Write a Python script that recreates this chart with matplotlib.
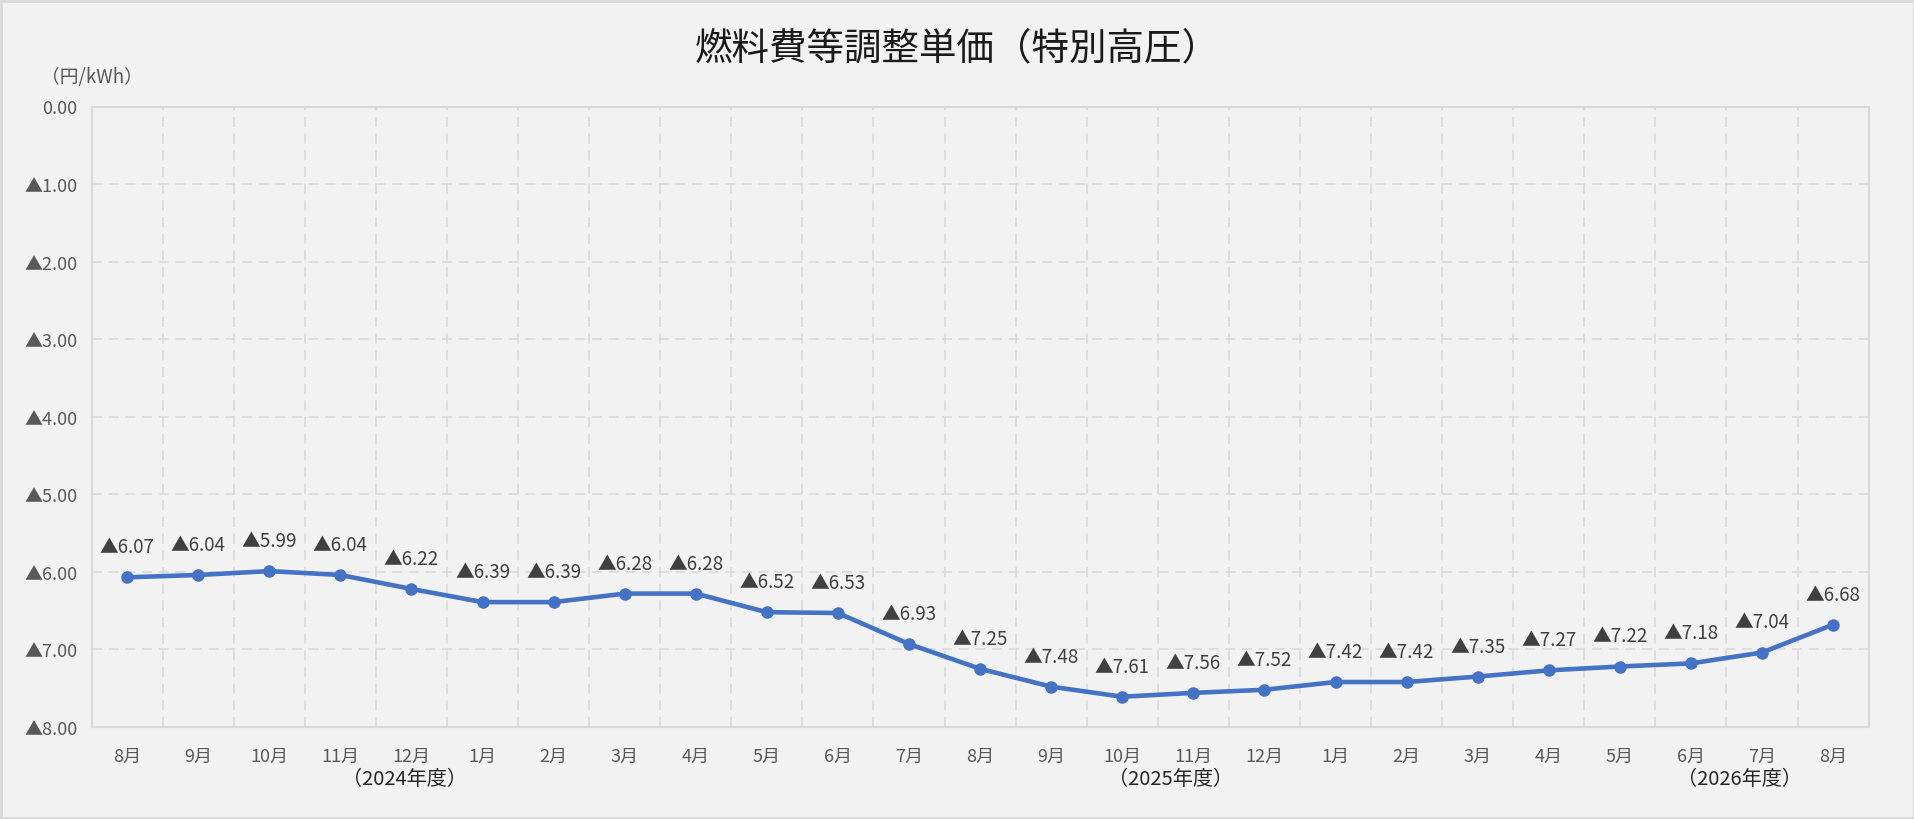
import matplotlib
matplotlib.use("Agg")
import matplotlib.pyplot as plt
from matplotlib.patches import Rectangle

plt.rcParams['font.family'] = ['Noto Sans CJK JP', 'DejaVu Sans']

title = "燃料費等調整単価（特別高圧）"
unit_label = "（円/kWh）"
months = ["8月", "9月", "10月", "11月", "12月", "1月", "2月", "3月", "4月", "5月",
          "6月", "7月", "8月", "9月", "10月", "11月", "12月", "1月", "2月", "3月",
          "4月", "5月", "6月", "7月", "8月"]
# values are reductions (shown with ▲)
values = [6.07, 6.04, 5.99, 6.04, 6.22, 6.39, 6.39, 6.28, 6.28, 6.52,
          6.53, 6.93, 7.25, 7.48, 7.61, 7.56, 7.52, 7.42, 7.42, 7.35,
          7.27, 7.22, 7.18, 7.04, 6.68]
year_labels = ["（2024年度）", "（2025年度）", "（2026年度）"]
year_label_pos = [3.9, 14.68, 22.68]
y_ticks = [0, 1, 2, 3, 4, 5, 6, 7, 8]

W, H = 1915, 820
fig = plt.figure(figsize=(W / 100, H / 100), dpi=100)
fig.patch.set_facecolor("#f2f2f2")
fig.patches.append(Rectangle((0.0005, 0.001), 0.999, 0.997, transform=fig.transFigure,
                             fill=False, edgecolor="#d9d9d9", linewidth=2))

left, right = 91.6 / W, 1868.6 / W
top, bottom = 1 - 107.5 / H, 1 - 728 / H
ax = fig.add_axes([left, bottom, right - left, top - bottom])
ax.set_facecolor("#f2f2f2")

x = list(range(len(months)))
y = [-v for v in values]

ax.set_xlim(-0.5, len(months) - 0.5)
ax.set_ylim(-8, 0)

# grid
grid_kw = dict(color="#d9d9d9", linewidth=1.2, linestyle=(0, (6, 4)), zorder=1)
for t in y_ticks[1:-1]:
    ax.axhline(-t, **grid_kw)
for b in range(len(months) - 1):
    ax.axvline(b + 0.5, **grid_kw)

for s in ax.spines.values():
    s.set_color("#d9d9d9")
    s.set_linewidth(1.5)

ax.plot(x, y, color="#4472C4", linewidth=3.3, marker="o", markersize=8, zorder=3)

for xi, v in zip(x, values):
    ax.annotate("▲{:.2f}".format(v), (xi, -v), xytext=(0, 22), textcoords="offset points",
                ha="center", va="center", fontsize=13.5, color="#404040", zorder=4)

ax.set_yticks([-t for t in y_ticks])
ax.set_yticklabels(["0.00" if t == 0 else "▲{:.2f}".format(t) for t in y_ticks])
ax.set_xticks(x)
ax.set_xticklabels(months)
ax.tick_params(axis="both", length=0, labelsize=13, labelcolor="#595959")
ax.tick_params(axis="y", pad=10)
ax.tick_params(axis="x", pad=14)

for lbl, pos in zip(year_labels, year_label_pos):
    ax.annotate(lbl, (pos, -8), xytext=(0, -37), textcoords="offset points",
                ha="center", va="center", fontsize=14.5, color="#262626",
                annotation_clip=False)

fig.text(0.5, 1 - 49 / H, title, ha="center", va="center", fontsize=27, color="#1a1a1a")
fig.text(92 / W, 1 - 77 / H, unit_label, ha="center", va="center", fontsize=13.5, color="#595959")

fig.savefig("out.png", dpi=100, facecolor=fig.get_facecolor())
